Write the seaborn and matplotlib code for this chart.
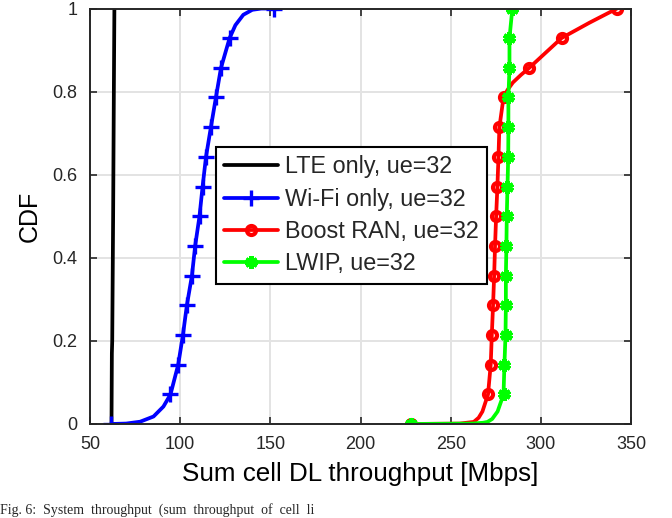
import pandas as pd
import seaborn as sns
import matplotlib.pyplot as plt

sns.set_theme(style="ticks")
plt.rcParams["font.family"] = ["Liberation Sans", "DejaVu Sans"]

# CDF curves (x in Mbps, y = CDF)
lte_x = [61.9, 62.1, 62.3, 62.8, 63.2, 63.5]
lte_y = [0.0, 0.17, 0.2, 0.5, 0.8, 1.0]

wifi_x = [61.7, 70, 77.8, 85.2, 90.7, 94.6, 98.9, 101.5, 103.7, 106.5, 108.3, 110.7,
          112.4, 114.3, 117.0, 119.8, 122.6, 127.4, 130.6, 135, 140, 145, 152.2]
wifi_y = [0.0, 0.001, 0.0055, 0.018, 0.042, 0.071, 0.143, 0.214, 0.286, 0.357, 0.429, 0.5,
          0.571, 0.643, 0.714, 0.786, 0.857, 0.929, 0.96, 0.985, 0.997, 1.0, 1.0]
wifi_marks = [0, 5, 6, 7, 8, 9, 10, 11, 12, 13, 14, 15, 16, 17, 22]

boost_x = [227.9, 255, 262.8, 265.5, 267.6, 270.7, 272.2, 272.8, 273.5, 274.1, 274.6, 275.2,
           275.9, 276.5, 277.0, 279.3, 281.5, 284.5, 288.9, 293.5, 311.5, 327, 342.2]
boost_y = [0.0, 0.001, 0.005, 0.015, 0.03, 0.071, 0.143, 0.214, 0.286, 0.357, 0.429, 0.5,
           0.571, 0.643, 0.714, 0.786, 0.804, 0.822, 0.84, 0.857, 0.929, 0.966, 1.0]
boost_marks = [0, 5, 6, 7, 8, 9, 10, 11, 12, 13, 14, 15, 19, 20, 22]

lwip_x = [227.9, 262, 268, 270.4, 273, 276, 279.3, 279.8, 280.4, 280.6, 280.6, 280.9, 281.1,
          281.5, 281.9, 282.0, 282.0, 282.6, 282.6, 284.2]
lwip_y = [0.0, 0.001, 0.003, 0.005, 0.012, 0.03, 0.071, 0.143, 0.214, 0.286, 0.357, 0.429, 0.5,
          0.571, 0.643, 0.714, 0.786, 0.857, 0.929, 1.0]
lwip_marks = [0] + list(range(6, 20))

x_ticks = [50, 100, 150, 200, 250, 300, 350]
y_ticks = [0, 0.2, 0.4, 0.6, 0.8, 1]
y_ticklabels = ["0", "0.2", "0.4", "0.6", "0.8", "1"]

series = [
    ("LTE only, ue=32", lte_x, lte_y, "black", None, None),
    ("Wi-Fi only, ue=32", wifi_x, wifi_y, "#0000ff", "+", wifi_marks),
    ("Boost RAN, ue=32", boost_x, boost_y, "#ff0000", "o", boost_marks),
    ("LWIP, ue=32", lwip_x, lwip_y, "#00ff00", (6, 2, 0), lwip_marks),
]

fig = plt.figure(figsize=(6.72, 5.18), dpi=100)
ax = fig.add_axes([0.134, 0.1815, 0.805, 0.802])

for name, xs, ys, color, marker, marks in series:
    df = pd.DataFrame({"x": xs, "y": ys})
    sns.lineplot(data=df, x="x", y="y", sort=False, estimator=None, ax=ax,
                 color=color, linewidth=2.7, label=name)
    line = ax.lines[-1]
    line.set_linestyle("-")
    if marker is not None:
        line.set_marker(marker)
        line.set_markevery(marks)
        line.set_markeredgecolor(color)
        if marker == "+":
            line.set_markersize(11)
            line.set_markeredgewidth(2.4)
        elif marker == "o":
            line.set_markersize(6.5)
            line.set_markeredgewidth(3.0)
            line.set_markerfacecolor("none")
        else:
            line.set_markersize(9)
            line.set_markeredgewidth(3.2)
            line.set_markerfacecolor(color)

ax.set_xlim(50, 350)
ax.set_ylim(0, 1)
ax.set_xticks(x_ticks)
ax.set_yticks(y_ticks)
ax.set_yticklabels(y_ticklabels)
ax.grid(True, color="#e3e3e3", linewidth=1.4)
ax.set_axisbelow(True)
for sp in ax.spines.values():
    sp.set_visible(True)
    sp.set_color("#262626")
    sp.set_linewidth(1.4)
ax.tick_params(direction="in", top=True, right=True, length=5, width=1.2,
               colors="#262626", labelsize=13, pad=9)
ax.set_xlabel("Sum cell DL throughput [Mbps]", fontsize=18.7, color="black", labelpad=6)
ax.set_ylabel("CDF", fontsize=18, color="black", labelpad=8)

leg = ax.legend(loc="center", bbox_to_anchor=(0.4835, 0.502), fontsize=16.8,
                frameon=True, fancybox=False, edgecolor="black", framealpha=1,
                handlelength=2.3, labelspacing=0.4, borderpad=0.35, handletextpad=0.3,
                borderaxespad=0)
leg.get_frame().set_linewidth(1.5)

fig.text(0.0, 0.002, "Fig. 6:  System  throughput  (sum  throughput  of  cell  li",
         family=["Liberation Serif", "DejaVu Serif"], fontsize=10, va="bottom", ha="left")

fig.savefig("out.png", dpi=100)
